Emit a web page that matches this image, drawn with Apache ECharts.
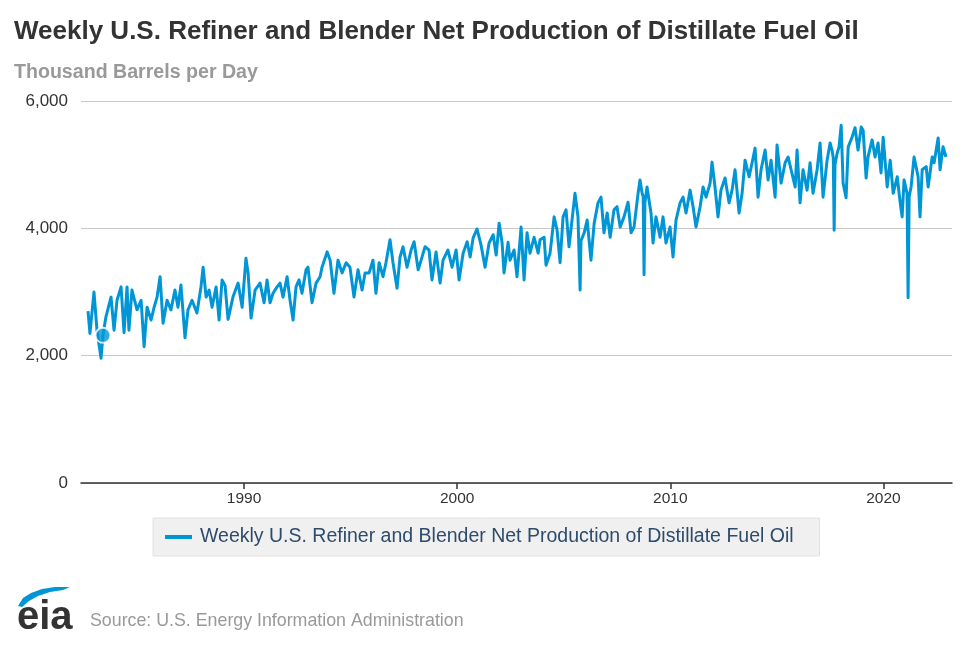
<!DOCTYPE html>
<html>
<head>
<meta charset="utf-8">
<script src="https://cdn.jsdelivr.net/npm/echarts@6/dist/echarts.min.js"></script>
<style>
html,body{margin:0;padding:0;background:#fff;}
#chart{width:970px;height:647px;}
</style>
</head>
<body>
<div id="chart"></div>
<script>
// ---- Data (decimal year, thousand barrels per day) ----
var t1980s = [1982.68,1982.77,1982.96,1983.10,1983.29,1983.38,1983.52,1983.76,1983.90,1984.04,1984.23,1984.37,1984.51,1984.60,1984.74,1984.98,1985.17,1985.31,1985.45,1985.64,1985.78,1985.92,1986.06,1986.20,1986.39,1986.57,1986.76,1986.90,1987.04,1987.23,1987.37,1987.56,1987.79,1987.98,1988.08,1988.22,1988.36,1988.50,1988.69,1988.83,1988.97,1989.11,1989.25,1989.48,1989.72,1989.91];
var v1980s = [2700,2350,3000,2400,1960,2320,2610,2920,2400,2870,3080,2360,3080,2400,3030,2720,2870,2140,2760,2560,2760,2920,3240,2510,2870,2720,3030,2760,3110,2280,2720,2870,2670,3080,3390,2920,3030,2760,3080,2560,3190,3100,2570,2920,3140,2760];

var t1990s = [1990.09,1990.19,1990.33,1990.52,1990.75,1990.94,1991.08,1991.22,1991.36,1991.55,1991.69,1991.83,1992.02,1992.16,1992.30,1992.44,1992.58,1992.72,1992.91,1993.00,1993.19,1993.38,1993.57,1993.66,1993.90,1994.04,1994.22,1994.41,1994.60,1994.79,1994.97,1995.16,1995.35,1995.54,1995.68,1995.87,1996.05,1996.19,1996.34,1996.52,1996.66,1996.85,1996.99,1997.18,1997.32,1997.46,1997.65,1997.84,1997.98,1998.17,1998.31,1998.49,1998.68,1998.82,1999.01,1999.20,1999.34,1999.57,1999.76,1999.95];
var v1990s = [3530,3300,2590,3030,3140,2830,3190,2830,2980,3080,3140,2920,3240,2870,2560,3080,3190,2980,3350,3390,2830,3140,3240,3390,3630,3500,2980,3500,3300,3460,3390,2920,3350,3030,3300,3300,3500,2980,3460,3240,3460,3820,3460,3060,3550,3710,3390,3660,3790,3350,3500,3710,3660,3190,3630,3140,3500,3660,3390,3660];

var t2000s = [2000.09,2000.28,2000.47,2000.61,2000.75,2000.93,2001.12,2001.31,2001.50,2001.69,2001.83,2001.97,2002.11,2002.20,2002.39,2002.48,2002.67,2002.81,2003.00,2003.14,2003.28,2003.42,2003.61,2003.80,2003.89,2004.08,2004.17,2004.36,2004.55,2004.69,2004.83,2004.97,2005.11,2005.25,2005.39,2005.53,2005.67,2005.73,2005.77,2005.81,2005.96,2006.10,2006.28,2006.43,2006.61,2006.75,2006.89,2007.04,2007.18,2007.36,2007.50,2007.65,2007.83,2008.02,2008.16,2008.30,2008.49,2008.58,2008.68,2008.73,2008.77,2008.81,2008.91,2009.10,2009.19,2009.33,2009.52,2009.66,2009.80,2009.99];
var v2000s = [3190,3610,3790,3550,3850,3990,3740,3390,3770,3900,3580,4080,3770,3300,3780,3500,3660,3240,4020,3190,3930,3610,3860,3610,3820,3860,3420,3610,4180,3970,3460,4180,4290,3710,4130,4550,4180,4150,3030,3800,3930,4130,3500,4080,4400,4490,3930,4240,3860,4290,4340,4020,4180,4410,3930,4020,4550,4760,4550,4500,3270,4400,4650,4230,3770,4180,3860,4180,3770,4020];

var t2010s = [2010.13,2010.27,2010.46,2010.60,2010.74,2010.93,2011.07,2011.21,2011.40,2011.54,2011.68,2011.87,2011.96,2012.10,2012.24,2012.38,2012.57,2012.76,2012.90,2013.04,2013.23,2013.37,2013.51,2013.70,2013.84,2013.98,2014.12,2014.26,2014.45,2014.59,2014.73,2014.92,2015.01,2015.20,2015.39,2015.53,2015.67,2015.86,2015.95,2016.09,2016.23,2016.42,2016.56,2016.70,2016.89,2017.03,2017.17,2017.36,2017.50,2017.59,2017.65,2017.69,2017.73,2017.83,2017.92,2018.02,2018.11,2018.25,2018.35,2018.53,2018.67,2018.81,2018.96,2019.05,2019.19,2019.28,2019.47,2019.61,2019.75,2019.89,2019.99];
var v2010s = [3550,4130,4400,4490,4240,4600,4340,4020,4340,4650,4490,4710,5040,4650,4180,4600,4790,4400,4600,4920,4240,4550,5070,4810,5030,5260,4490,4920,5230,4760,5070,4490,5310,4710,5030,5120,4920,4650,5230,4400,4920,4600,5030,4550,4920,5340,4490,5070,5340,5230,5100,3970,5000,5180,5280,5620,4710,4480,5280,5430,5580,5230,5590,5540,4790,5120,5390,5120,5340,4870,5430];

var t2020s = [2020.18,2020.32,2020.46,2020.65,2020.79,2020.88,2020.97,2021.11,2021.16,2021.21,2021.30,2021.44,2021.63,2021.72,2021.82,2022.01,2022.10,2022.29,2022.38,2022.57,2022.66,2022.80,2022.94];
var v2020s = [4650,5070,4550,4810,4400,4180,4760,4550,2910,4500,4650,5120,4810,4180,4920,4970,4650,5120,5030,5420,4920,5280,5120];

// highlighted point
var markerYear = [1983.38];
var markerValue = [2320];

var xTickYears = [1990, 2000, 2010, 2020];

var seriesName = 'Weekly U.S. Refiner and Blender Net Production of Distillate Fuel Oil';

// ---- build ----
var years = [].concat(t1980s, t1990s, t2000s, t2010s, t2020s);
var values = [].concat(v1980s, v1990s, v2000s, v2010s, v2020s);
var lineData = years.map(function (t, i) { return [t, values[i]]; });
var markerData = markerYear.map(function (t, i) { return [t, markerValue[i]]; });

var BLUE = '#0096d6';
var FONT = '"Liberation Sans", Arial, Helvetica, sans-serif';

var chart = echarts.init(document.getElementById('chart'), null, { renderer: 'canvas' });
chart.setOption({
  animation: false,
  backgroundColor: '#ffffff',
  textStyle: { fontFamily: FONT },
  grid: { left: 81, right: 18, top: 101, bottom: 164, containLabel: false },
  xAxis: {
    type: 'value',
    min: 1982.35,
    max: 2023.22,
    axisLine: { show: true, lineStyle: { color: '#333333', width: 1.5 } },
    axisTick: { show: true, customValues: xTickYears, length: 6, lineStyle: { color: '#333333', width: 1.5 } },
    axisLabel: { show: true, customValues: xTickYears, formatter: function (v) { return String(v); }, color: '#333333', fontSize: 15.5, margin: 8, fontFamily: FONT },
    splitLine: { show: false }
  },
  yAxis: {
    type: 'value',
    min: 0,
    max: 6000,
    interval: 2000,
    axisLine: { show: false },
    axisTick: { show: false },
    axisLabel: { color: '#333333', fontSize: 17, margin: 13, fontFamily: FONT,
      formatter: function (v) { return v.toLocaleString('en-US'); } },
    splitLine: { show: true, lineStyle: { color: '#c8c8c8', width: 1 } }
  },
  legend: {
    data: [seriesName],
    left: 153,
    top: 518,
    icon: 'rect',
    itemWidth: 27,
    itemHeight: 4,
    itemGap: 10,
    backgroundColor: '#f0f0f0',
    borderColor: '#e2e2e2',
    borderWidth: 1,
    padding: [9, 26, 9, 12],
    textStyle: { fontSize: 19.5, color: '#2d4b6b', fontFamily: FONT, padding: [0, 0, 0, 3] }
  },
  series: [
    {
      name: seriesName,
      type: 'line',
      data: lineData,
      showSymbol: false,
      symbol: 'none',
      lineStyle: { color: BLUE, width: 3, join: 'round' },
      itemStyle: { color: BLUE },
      z: 2
    },
    {
      name: 'marker',
      type: 'scatter',
      data: markerData,
      symbol: 'circle',
      symbolSize: 15,
      itemStyle: { color: BLUE, borderColor: '#ffffff', borderWidth: 2 },
      z: 3
    }
  ],
  graphic: [
    { type: 'text', x: 14, y: 19, style: { text: 'Weekly U.S. Refiner and Blender Net Production of Distillate Fuel Oil', fontSize: 26, fontWeight: 'bold', fill: '#333333', fontFamily: FONT } },
    { type: 'text', x: 14, y: 63, style: { text: 'Thousand Barrels per Day', fontSize: 19.6, fontWeight: 'bold', fill: '#999999', fontFamily: FONT } },
    { type: 'text', x: 90, y: 612, style: { text: 'Source: U.S. Energy Information Administration', fontSize: 17.8, fill: '#999999', fontFamily: FONT } },
    { type: 'text', x: 17, y: 598, style: { text: 'eia', fontSize: 40, fontWeight: 'bold', fill: '#333333', fontFamily: FONT } },
    { type: 'polygon', shape: { points: [[18,606],[23,598],[31,593],[42,589],[55,587],[70,587],[63,590],[50,592],[38,596],[29,601],[22,607]] }, style: { fill: BLUE } }
  ]
});
</script>
</body>
</html>
